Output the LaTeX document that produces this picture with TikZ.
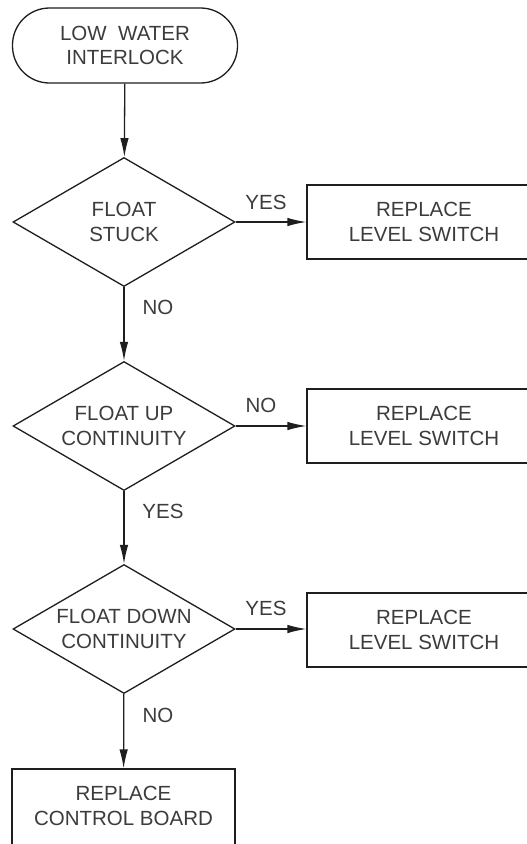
\documentclass[tikz,border=0pt]{standalone}
\usepackage{fontspec}
\setmainfont{Liberation Sans}
\usetikzlibrary{shapes.geometric,arrows.meta}
\definecolor{txt}{RGB}{60,60,60}
\definecolor{ln}{RGB}{30,30,30}
\tikzset{
  base/.style={draw=ln, line width=1.3pt, text=txt, align=center, inner sep=0pt,
    font=\fontsize{20.5}{24.5}\selectfont},
  term/.style={base, rectangle, rounded corners=37pt, minimum width=225pt, minimum height=75pt},
  decision/.style={base, diamond, aspect=1.73, minimum width=222pt, minimum height=129pt},
  action/.style={base, rectangle, minimum width=234pt, minimum height=74pt},
  lbl/.style={text=txt, inner sep=0pt, font=\fontsize{20.5}{24.5}\selectfont},
  arr/.style={draw=ln, line width=1.3pt, -{Latex[length=19pt,width=8.5pt]}}
}
\begin{document}
\begin{tikzpicture}[x=1pt,y=-1pt]
\useasboundingbox (0,0) rectangle (527,844);
\clip (0,0) rectangle (527,844);
\fill[white] (0,0) rectangle (527,844);
\node[term] (t) at (125,45.5) {LOW\ \ WATER\\INTERLOCK};
\node[decision] (d1) at (124,222) {FLOAT\\STUCK};
\node[decision] (d2) at (124,426) {FLOAT UP\\CONTINUITY};
\node[decision] (d3) at (124,629) {FLOAT DOWN\\CONTINUITY};
\node[action] (b1) at (424,222) {REPLACE\\LEVEL SWITCH};
\node[action] (b2) at (424,426) {REPLACE\\LEVEL SWITCH};
\node[action] (b3) at (424,630) {REPLACE\\LEVEL SWITCH};
\node[action, minimum width=223pt, minimum height=78pt, text depth=4pt] (b4) at (123.5,808) {REPLACE\\CONTROL BOARD};
\draw[arr] (t) -- (d1);
\draw[arr] (d1) -- (b1);
\draw[arr] (d1) -- (d2);
\draw[arr] (d2) -- (b2);
\draw[arr] (d2) -- (d3);
\draw[arr] (d3.east) -- (d3.east -| b3.west);
\draw[arr] (d3) -- (b4);
\node[lbl] (l1) at (266,202) {YES};
\node[lbl] (l2) at (158,307) {NO};
\node[lbl] (l3) at (261,405) {NO};
\node[lbl] (l4) at (163,511) {YES};
\node[lbl] (l5) at (266,608) {YES};
\node[lbl] (l6) at (158,715) {NO};
\end{tikzpicture}
\end{document}
